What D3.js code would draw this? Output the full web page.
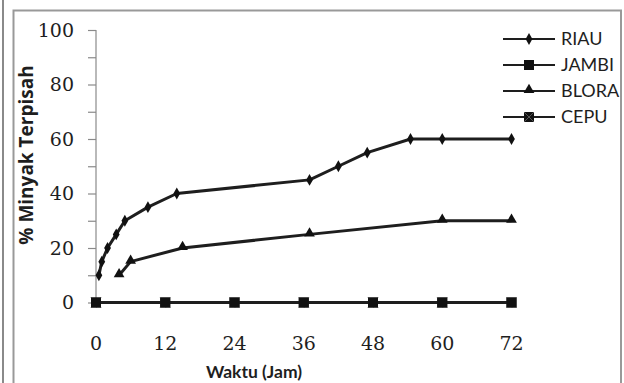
<!DOCTYPE html>
<html>
<head>
<meta charset="utf-8">
<script src="https://cdn.jsdelivr.net/npm/d3@7"></script>
<style>
  html, body { margin: 0; padding: 0; background: #fff; }
  svg { display: block; }
</style>
</head>
<body>
<svg id="chart" width="624" height="383"></svg>
<script>
// Waktu (jam) dan % minyak terpisah per sampel
const riauTime   = [0.5, 1, 2, 3.5, 5, 9, 14, 37, 42, 47, 54.5, 60, 72];
const riauValue  = [10, 15, 20, 25, 30, 35, 40, 45, 50, 55, 60, 60, 60];
const jambiTime  = [0, 12, 24, 36, 48, 60, 72];
const jambiValue = [0, 0, 0, 0, 0, 0, 0];
const bloraTime  = [4, 6, 15, 37, 60, 72];
const bloraValue = [10, 15, 20, 25, 30, 30];
const cepuTime   = [0, 12, 24, 36, 48, 60, 72];
const cepuValue  = [0, 0, 0, 0, 0, 0, 0];

const seriesNames = ["RIAU", "JAMBI", "BLORA", "CEPU"];
const xTicks = [0, 12, 24, 36, 48, 60, 72];
const yTicks = [0, 20, 40, 60, 80, 100];
const yMinorTicks = [0, 10, 20, 30, 40, 50, 60, 70, 80, 90, 100];

const svg = d3.select("#chart");
const ink = "#1e1e1e";
const grey = "#8a8a8a";

// frame lines
svg.append("line").attr("x1", 3).attr("x2", 3).attr("y1", 0).attr("y2", 383)
  .attr("stroke", grey).attr("stroke-width", 2);
svg.append("path")
  .attr("d", "M13.5,383 V10.5 H621 V383")
  .attr("fill", "none").attr("stroke", "#999").attr("stroke-width", 2);

const x = d3.scaleLinear().domain([0, 72]).range([96, 511.5]);
const y = d3.scaleLinear().domain([0, 100]).range([302.5, 30]);

// y axis
const yAxis = svg.append("g").attr("transform", "translate(96,0)")
  .call(d3.axisLeft(y).tickValues(yMinorTicks).tickSize(8).tickFormat(""));
yAxis.selectAll("path, line").attr("stroke", grey).attr("stroke-width", 1.2);
yAxis.select(".domain").attr("d", `M0,${y(0)}V${y(100)}`);

svg.append("g").selectAll("text").data(yTicks).join("text")
  .attr("x", 74).attr("y", d => y(d)).attr("dy", "0.36em")
  .attr("text-anchor", "end")
  .attr("font-family", "DejaVu Serif").attr("font-size", 19)
  .attr("fill", ink).text(d => d);

// x axis
const xAxis = svg.append("g").attr("transform", `translate(0,${y(0)})`)
  .call(d3.axisBottom(x).tickValues(xTicks).tickSize(5).tickSizeOuter(0).tickFormat(""));
xAxis.selectAll("path, line").attr("stroke", grey).attr("stroke-width", 1.2);

svg.append("g").selectAll("text").data(xTicks).join("text")
  .attr("x", d => x(d)).attr("y", 343).attr("dy", "0.36em")
  .attr("text-anchor", "middle")
  .attr("font-family", "DejaVu Serif").attr("font-size", 19)
  .attr("fill", ink).text(d => d);

// axis titles
svg.append("text")
  .attr("transform", "translate(33,155) rotate(-90)")
  .attr("text-anchor", "middle")
  .attr("font-family", "Open Sans").attr("font-weight", "bold").attr("font-size", 19)
  .attr("fill", ink).text("% Minyak Terpisah");
svg.append("text")
  .attr("x", 254).attr("y", 378)
  .attr("text-anchor", "middle")
  .attr("font-family", "Lato").attr("font-weight", "bold").attr("font-size", 17.5)
  .attr("fill", ink).text("Waktu (Jam)");

// marker shapes
const markers = {
  RIAU:  (g) => g.append("path").attr("d", d3.symbol(d3.symbolDiamond, 40)()),
  JAMBI: (g) => g.append("rect").attr("x", -5).attr("y", -5).attr("width", 10).attr("height", 10),
  BLORA: (g) => g.append("path").attr("d", d3.symbol(d3.symbolTriangle, 50)()).attr("transform", "translate(0,-1)"),
  CEPU:  (g) => {
    g.append("rect").attr("x", -5).attr("y", -5).attr("width", 10).attr("height", 10);
    g.append("path").attr("d", "M-5,-5L5,5M5,-5L-5,5").attr("stroke", "#555").attr("stroke-width", 1);
  }
};

const line = d3.line().x(d => x(d[0])).y(d => y(d[1]));
const data = {
  RIAU:  d3.zip(riauTime, riauValue),
  JAMBI: d3.zip(jambiTime, jambiValue),
  BLORA: d3.zip(bloraTime, bloraValue),
  CEPU:  d3.zip(cepuTime, cepuValue)
};

// CEPU first so JAMBI sits on top along the zero line
["CEPU", "BLORA", "RIAU", "JAMBI"].forEach(name => {
  const pts = data[name];
  svg.append("path").datum(pts)
    .attr("d", line).attr("fill", "none")
    .attr("stroke", ink).attr("stroke-width", 3)
    .attr("stroke-linejoin", "round");
  svg.append("g").selectAll("g").data(pts).join("g")
    .attr("transform", d => `translate(${x(d[0])},${y(d[1])})`)
    .attr("fill", "#111")
    .each(function () { markers[name](d3.select(this)); });
});

// legend
const legend = svg.append("g");
seriesNames.forEach((name, i) => {
  const cy = 39 + i * 26;
  legend.append("line").attr("x1", 503).attr("x2", 555).attr("y1", cy).attr("y2", cy)
    .attr("stroke", ink).attr("stroke-width", 2.2);
  const m = legend.append("g").attr("transform", `translate(529,${cy})`).attr("fill", "#111");
  markers[name](m);
  legend.append("text").attr("x", 561).attr("y", cy).attr("dy", "0.36em")
    .attr("font-family", "Lato").attr("font-size", 18)
    .attr("fill", ink).text(name);
});
</script>
</body>
</html>
